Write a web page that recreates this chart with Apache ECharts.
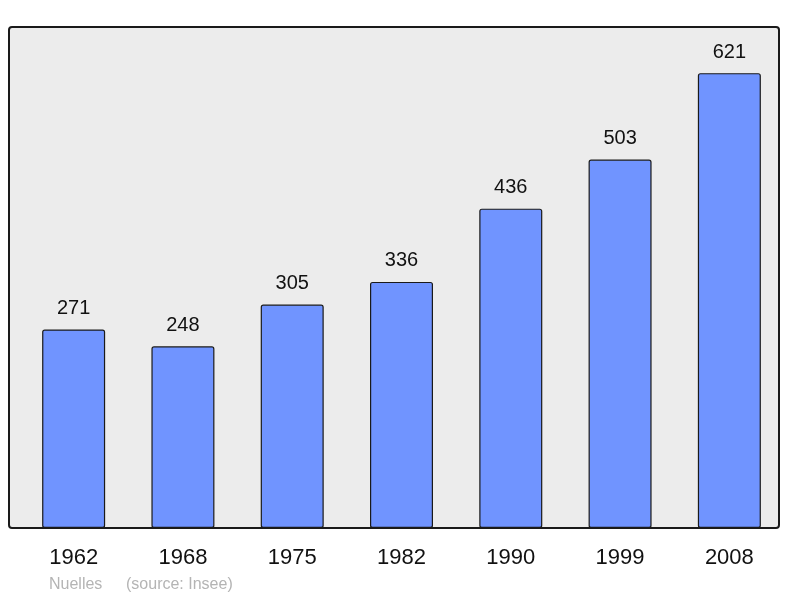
<!DOCTYPE html>
<html><head><meta charset="utf-8">
<script src="https://cdn.jsdelivr.net/npm/echarts@6/dist/echarts.min.js"></script>
<style>html,body{margin:0;padding:0;background:#fff}#c{width:800px;height:598px}</style>
</head><body><div id="c"></div>
<script>
const years = ['1962','1968','1975','1982','1990','1999','2008'];
const population = [271, 248, 305, 336, 436, 503, 621];
const placeName = 'Nuelles';
const sourceText = '(source: Insee)';

const font = 'Liberation Sans, Arial, sans-serif';
const chart = echarts.init(document.getElementById('c'), null, {renderer:'canvas'});
chart.setOption({
  animation: false,
  backgroundColor: '#ffffff',
  grid: {left: 19, top: 27, width: 765, height: 501, show: false},
  xAxis: {
    type: 'category', data: years, boundaryGap: true,
    axisLine: {show: false}, axisTick: {show: false},
    axisLabel: {color: '#111', fontSize: 22, fontFamily: font, margin: 19}
  },
  yAxis: {type: 'value', min: 0, max: 684, show: false, splitLine: {show: false}},
  series: [{
    type: 'bar', data: population, barWidth: 63,
    itemStyle: {color: '#7094ff', borderColor: '#1a1a1a', borderWidth: 1.2, borderRadius: 2},
    label: {show: true, position: 'top', distance: 11, color: '#111', fontSize: 20, fontFamily: font}
  }],
  graphic: [
    {type: 'rect', z: -10, silent: true, shape: {x: 9, y: 27, width: 770, height: 501, r: 3},
     style: {fill: '#ececec', stroke: null}},
    {type: 'rect', z: 100, silent: true, shape: {x: 9, y: 27, width: 770, height: 501, r: 3},
     style: {fill: null, stroke: '#1a1a1a', lineWidth: 2}},
    {type: 'text', z: 100, left: 49, top: 577,
     style: {text: placeName, fill: '#b4b4b4', fontSize: 16, fontFamily: font}},
    {type: 'text', z: 100, left: 126, top: 577,
     style: {text: sourceText, fill: '#b4b4b4', fontSize: 16, fontFamily: font}}
  ]
});
</script></body></html>
